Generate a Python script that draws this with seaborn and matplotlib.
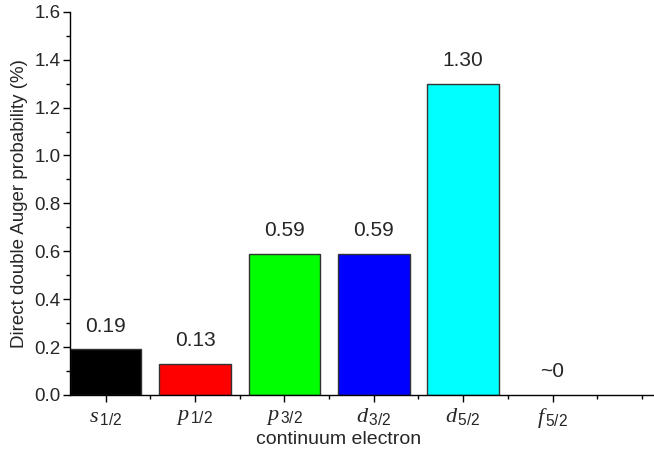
import pandas as pd
import numpy as np
import matplotlib.pyplot as plt
import seaborn as sns
from matplotlib.ticker import MultipleLocator

# Data
orbitals = ['s', 'p', 'p', 'd', 'd', 'f']
subscripts = ['1/2', '1/2', '3/2', '3/2', '5/2', '5/2']
probability = [0.19, 0.13, 0.59, 0.59, 1.30, 0.0]
value_labels = ['0.19', '0.13', '0.59', '0.59', '1.30', '~0']
bar_colors = ['#000000', '#ff0000', '#00ff00', '#0000ff', '#00ffff', '#ffffff']

sns.set_style('ticks')
plt.rcParams['font.family'] = ['Liberation Sans', 'DejaVu Sans']
plt.rcParams['mathtext.fontset'] = 'custom'
plt.rcParams['mathtext.rm'] = 'Liberation Sans'
plt.rcParams['mathtext.it'] = 'Liberation Serif:italic'

categories = [f'{o}{s}' for o, s in zip(orbitals, subscripts)]
df = pd.DataFrame({'cat': categories, 'prob': probability})

fig = plt.figure(figsize=(6.54, 4.55), dpi=100)
ax = fig.add_axes([0.107, 0.132, 0.895, 0.842])

sns.barplot(data=df, x='cat', y='prob', hue='cat', palette=bar_colors,
            saturation=1, legend=False, width=0.8, edgecolor='#333333',
            linewidth=1.0, ax=ax)

# no visible outline for the zero-height bar
for p, v in zip(ax.patches, probability):
    if v == 0:
        p.set_linewidth(0)

# value labels above bars
for i, (v, lab) in enumerate(zip(probability, value_labels)):
    ax.annotate(lab, (i, v), xytext=(0, 10), textcoords='offset points',
                ha='center', va='bottom', fontsize=15)

ax.set_xlim(-0.4, 6.15)
ax.set_ylim(0, 1.6)
ax.yaxis.set_major_locator(MultipleLocator(0.2))
ax.yaxis.set_minor_locator(MultipleLocator(0.1))
ax.xaxis.set_minor_locator(MultipleLocator(0.5))

ax.set_xticks(range(len(categories)))
ax.set_xticklabels([rf'$\mathit{{{o}}}_{{\,\mathrm{{{s}}}}}$' for o, s in zip(orbitals, subscripts)],
                   fontsize=16)
ax.tick_params(axis='y', labelsize=13.5, pad=2)
ax.tick_params(axis='x', pad=3)
ax.tick_params(which='major', length=5, width=1, direction='out', color='black')
ax.tick_params(which='minor', length=3, width=1, direction='out', color='black')

ax.set_xlabel('continuum electron', fontsize=14, labelpad=1, x=0.459)
ax.set_ylabel('Direct double Auger probability (%)', fontsize=13.5, labelpad=4)

sns.despine(ax=ax)
for sp in ['left', 'bottom']:
    ax.spines[sp].set_color('black')
    ax.spines[sp].set_linewidth(1.0)

fig.savefig('out.png', dpi=100)
